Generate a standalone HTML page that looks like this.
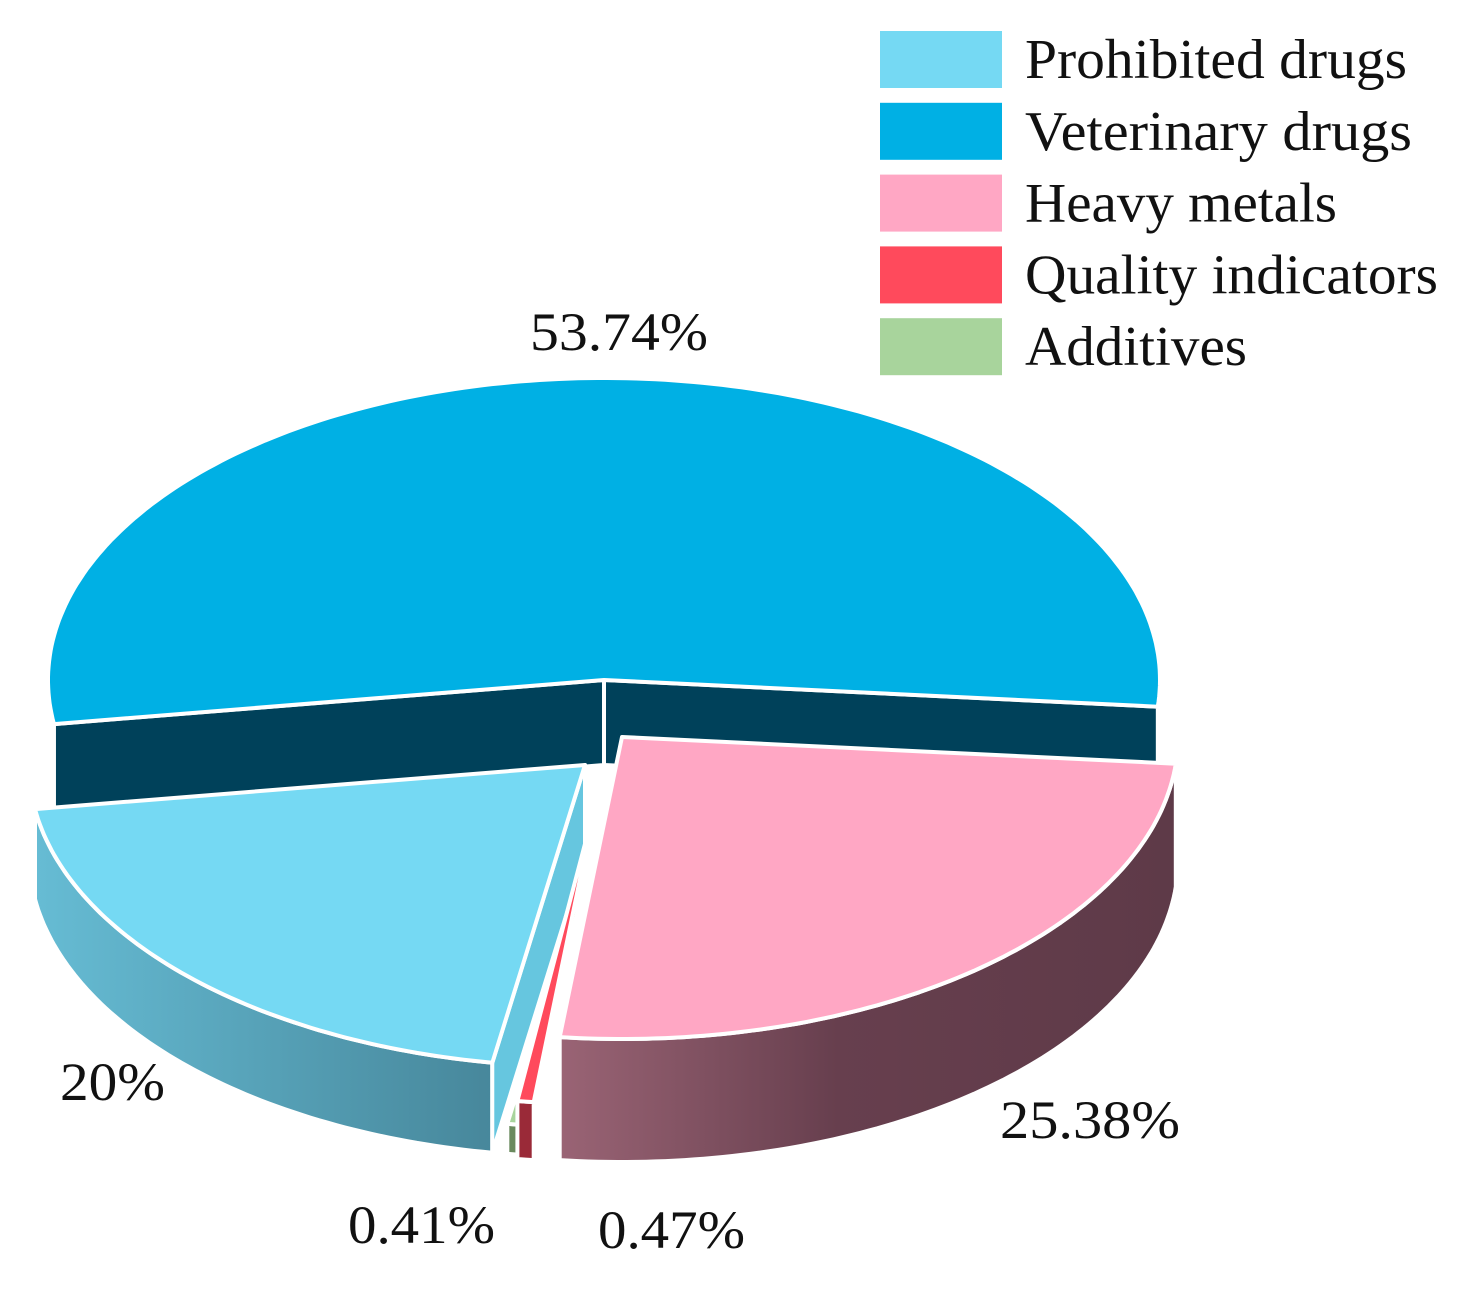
<!DOCTYPE html>
<html><head><meta charset="utf-8"><style>
html,body{margin:0;padding:0;background:#fff;}
svg{display:block;}
text{font-family:"Liberation Serif",serif;fill:#111;}
</style></head><body>
<svg id="chart" width="1467" height="1291" viewBox="0 0 1467 1291" xmlns="http://www.w3.org/2000/svg">
<defs>
<linearGradient id="gProh" x1="0" x2="1" y1="0" y2="0"><stop offset="0" stop-color="#66bcd4"/><stop offset="1" stop-color="#47879b"/></linearGradient>
<linearGradient id="gHeavy" x1="0" x2="1" y1="0" y2="0"><stop offset="0" stop-color="#9a6475"/><stop offset="0.45" stop-color="#673f4e"/><stop offset="1" stop-color="#5e3a48"/></linearGradient>
<linearGradient id="gVet" x1="0" x2="1"><stop offset="0" stop-color="#00415a"/><stop offset="1" stop-color="#00415a"/></linearGradient>
<linearGradient id="gQual" x1="0" x2="1"><stop offset="0" stop-color="#9a2a38"/><stop offset="1" stop-color="#9a2a38"/></linearGradient>
<linearGradient id="gAdd" x1="0" x2="1"><stop offset="0" stop-color="#6a8a5e"/><stop offset="1" stop-color="#6a8a5e"/></linearGradient>
</defs>
<g id="slices"></g>
<g id="legend"></g>
<text x="530" y="350" font-size="54" textLength="178" lengthAdjust="spacingAndGlyphs">53.74%</text>
<text x="60" y="1100" font-size="54" textLength="105" lengthAdjust="spacingAndGlyphs">20%</text>
<text x="1000" y="1138" font-size="54" textLength="180" lengthAdjust="spacingAndGlyphs">25.38%</text>
<text x="348" y="1243" font-size="54" textLength="147" lengthAdjust="spacingAndGlyphs">0.41%</text>
<text x="598" y="1248" font-size="54" textLength="147" lengthAdjust="spacingAndGlyphs">0.47%</text>
</svg>
<script>
const categories = ["Veterinary drugs","Heavy metals","Quality indicators","Additives","Prohibited drugs"];
const values = [53.74, 25.38, 0.47, 0.41, 20];
const legendOrder = ["Prohibited drugs","Veterinary drugs","Heavy metals","Quality indicators","Additives"];

const NS = "http://www.w3.org/2000/svg";
const style = {
  "Veterinary drugs": {top:"#00b0e4", wall:"url(#gVet)", face:"#00415a", cx:604, cy:680, d:85, faces:"both"},
  "Heavy metals": {top:"#ffa7c4", wall:"url(#gHeavy)", face:"#7a4a5a", cx:622, cy:737, d:123, faces:"none"},
  "Quality indicators": {top:"#ff4a5c", wall:"url(#gQual)", face:"#ff4a5c", cx:596, cy:802, d:58, faces:"none"},
  "Additives": {top:"#a8d49c", wall:"url(#gAdd)", face:"#a8d49c", cx:600, cy:826, d:30, faces:"none"},
  "Prohibited drugs": {top:"#75d9f3", wall:"url(#gProh)", face:"#66c6df", cx:585, cy:765, d:90, faces:"start"}
};
const legendColor = {"Prohibited drugs":"#75d9f3","Veterinary drugs":"#00b0e4","Heavy metals":"#ffa7c4","Quality indicators":"#ff4a5c","Additives":"#a8d49c"};
const legendWidth = {"Prohibited drugs":382,"Veterinary drugs":387,"Heavy metals":312,"Quality indicators":413,"Additives":222};
const RX = 556, RY = 302, START = 171.6;
const g = document.getElementById('slices');
const rad = a => a*Math.PI/180;
function pt(s,a,dy){return [s.cx+RX*Math.cos(rad(a)), s.cy+RY*Math.sin(rad(a))+(dy||0)];}
function arcPath(s,a0,a1,dy){
  let p="", n=Math.max(2,Math.ceil(Math.abs(a1-a0)));
  for(let i=0;i<=n;i++){const q=pt(s,a0+(a1-a0)*i/n,dy);p+=(i? "L":"")+q[0].toFixed(1)+","+q[1].toFixed(1);}
  return p;
}
function mk(d,fill,name){
  const e=document.createElementNS(NS,"path");
  e.setAttribute("d",d);e.setAttribute("fill",fill);
  e.setAttribute("stroke","#fff");e.setAttribute("stroke-width","4");e.setAttribute("stroke-linejoin","round");
  
  
  return e;
}
const total = values.reduce((a,b)=>a+b,0);
let ang = START;
const slices = categories.map((c,i)=>{const a0=ang, a1=ang+values[i]/total*360; ang=a1; return {c,a0,a1};});
const drawOrder = ["Veterinary drugs","Prohibited drugs","Additives","Quality indicators","Heavy metals"];
drawOrder.forEach(name=>{
  const sl = slices.find(x=>x.c===name), s = style[name];
  const key = name.toLowerCase().replace(/ /g,'-');
  const grp=document.createElementNS(NS,"g");
  
  
  [[0,180],[360,540]].forEach(([lo,hi])=>{
    const b0=Math.max(sl.a0,lo), b1=Math.min(sl.a1,hi);
    if(b1>b0 && name!=="Veterinary drugs"){
      const back="L"+arcPath(s,b1,b0,s.d);
      grp.appendChild(mk("M"+arcPath(s,b0,b1,0)+back+"Z", s.wall, 'wall-'+key));
    }
  });
  const faceAt=(a,nm)=>{
    const e=pt(s,a,0), e2=pt(s,a,s.d);
    grp.appendChild(mk(`M${s.cx},${s.cy}L${e[0]},${e[1]}L${e2[0]},${e2[1]}L${s.cx},${s.cy+s.d}Z`, s.face, nm));
  };
  if(s.faces==="both"){faceAt(sl.a0,'face-start-'+key);faceAt(sl.a1,'face-end-'+key);}
  if(s.faces==="start"){faceAt(sl.a0,'face-start-'+key);}
  grp.appendChild(mk(`M${s.cx},${s.cy}L`+arcPath(s,sl.a0,sl.a1,0)+"Z", s.top, 'top-'+key));
  g.appendChild(grp);
});
const lg=document.getElementById('legend');
legendOrder.forEach((n,i)=>{
  const y=31+i*71.8;
  const r=document.createElementNS(NS,"rect");
  r.setAttribute("x",880);r.setAttribute("y",y);r.setAttribute("width",122);r.setAttribute("height",57);r.setAttribute("fill",legendColor[n]);
  
  
  lg.appendChild(r);
  const t=document.createElementNS(NS,"text");
  t.setAttribute("x",1025);t.setAttribute("y",y+47);t.setAttribute("font-size","56");
  t.setAttribute("textLength",legendWidth[n]);t.setAttribute("lengthAdjust","spacingAndGlyphs");
  t.textContent=n;
  
  
  lg.appendChild(t);
});
</script>
</body></html>
